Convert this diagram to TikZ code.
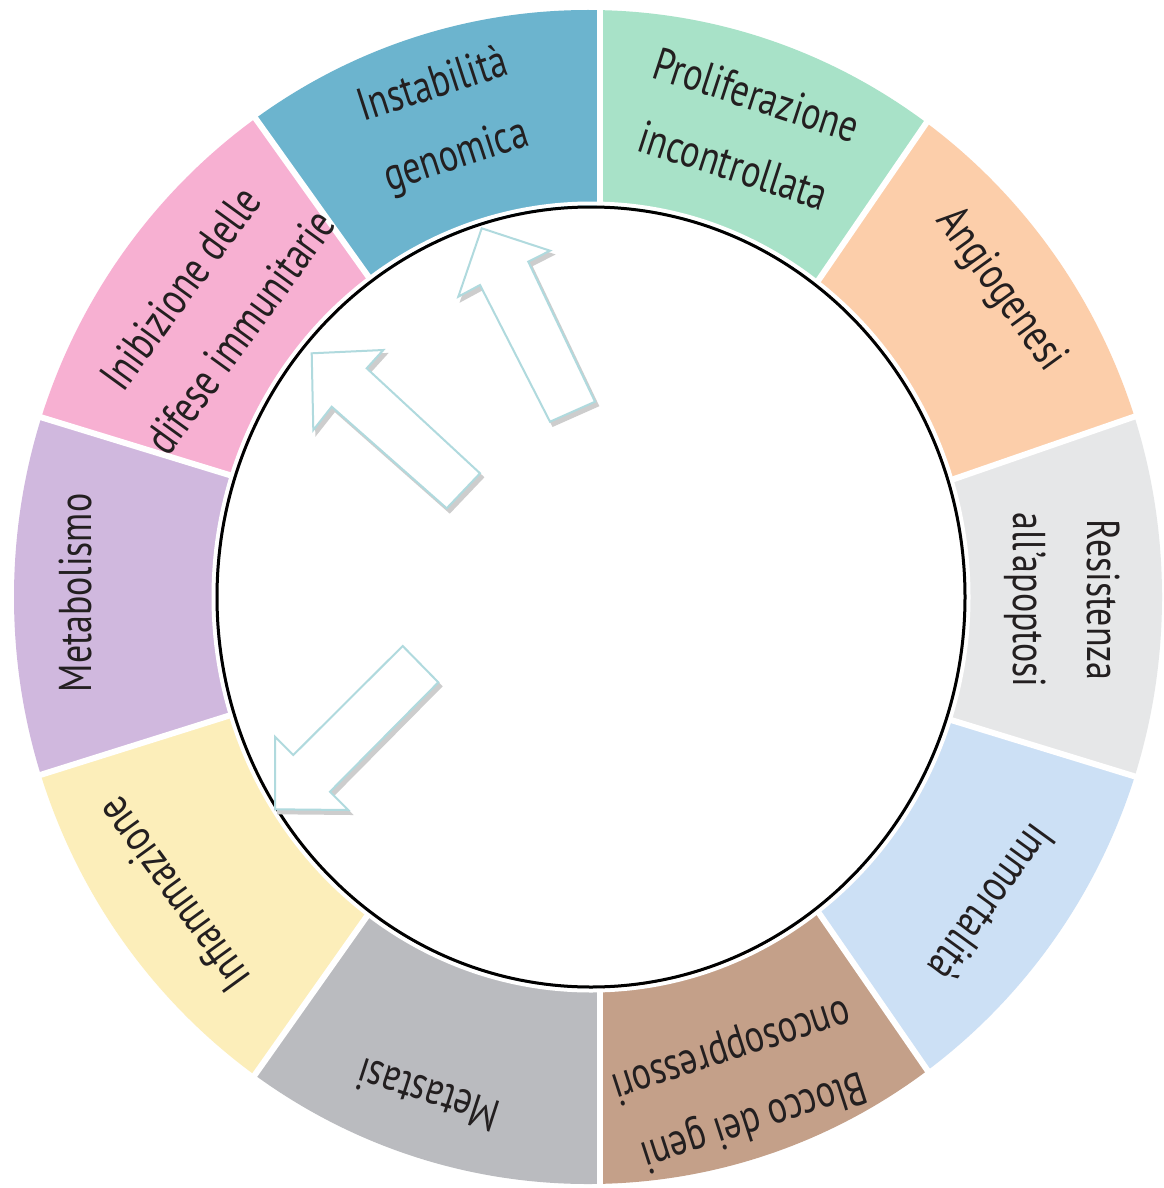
\documentclass[tikz,border=0pt]{standalone}
\usepackage{fontspec}
\newfontfamily\labfont{PT Sans}[FakeStretch=0.78]
\definecolor{cInst}{RGB}{108,180,206}
\definecolor{cProl}{RGB}{168,226,200}
\definecolor{cAngi}{RGB}{252,206,170}
\definecolor{cResi}{RGB}{230,231,232}
\definecolor{cImmo}{RGB}{204,224,245}
\definecolor{cBloc}{RGB}{196,160,137}
\definecolor{cMeta}{RGB}{186,187,191}
\definecolor{cInfi}{RGB}{252,238,186}
\definecolor{cMetb}{RGB}{208,184,222}
\definecolor{cInib}{RGB}{247,176,210}
\definecolor{txtc}{RGB}{35,31,32}
\definecolor{arrowc}{RGB}{176,218,222}
\definecolor{shadowc}{RGB}{205,205,205}
\begin{document}
\begin{tikzpicture}[x=1pt,y=1pt,
  lab/.style={font=\labfont\fontsize{46}{74}\selectfont, align=center, inner sep=0pt, text=txtc},
  gapline/.style={white, line width=6pt},
  arrowbody/.style={fill=white, draw=arrowc, line width=2pt, line join=miter},
  arrowshadow/.style={fill=shadowc, draw=shadowc, line width=2pt, line join=miter}]
\useasboundingbox (0,0) rectangle (1163,-1188);
\fill[white] (0,0) rectangle (1163,-1188);
% gap line end points
\coordinate (I1) at (600,-325);  \coordinate (O1) at (600,140);
\coordinate (I2) at (752,-377);  \coordinate (O2) at (1010,-1);
\coordinate (I3) at (847,-516);  \coordinate (O3) at (1275,-368);
\coordinate (I4) at (837,-685);  \coordinate (O4) at (1280,-821);
\coordinate (I5) at (754,-819);  \coordinate (O5) at (1012,-1193);
\coordinate (I6) at (600,-870);  \coordinate (O6) at (600,-1335);
\coordinate (I7) at (432,-824);  \coordinate (O7) at (170,-1195);
\coordinate (I8) at (336,-682);  \coordinate (O8) at (-103,-820);
\coordinate (I9) at (337,-508);  \coordinate (O9) at (-100,-374);
\coordinate (I10) at (435,-370); \coordinate (O10) at (171,0);
\coordinate (Co) at (588,-597);
\coordinate (Ci) at (591,-597);
% ring segments
\begin{scope}
  \clip (Co) ellipse (574pt and 587pt) (Ci) ellipse (374pt and 390pt);
  \fill[cProl] (I1) -- (O1) -- (O2) -- (I2) -- cycle;
  \fill[cAngi] (I2) -- (O2) -- (O3) -- (I3) -- cycle;
  \fill[cResi] (I3) -- (O3) -- (O4) -- (I4) -- cycle;
  \fill[cImmo] (I4) -- (O4) -- (O5) -- (I5) -- cycle;
  \fill[cBloc] (I5) -- (O5) -- (O6) -- (I6) -- cycle;
  \fill[cMeta] (I6) -- (O6) -- (O7) -- (I7) -- cycle;
  \fill[cInfi] (I7) -- (O7) -- (O8) -- (I8) -- cycle;
  \fill[cMetb] (I8) -- (O8) -- (O9) -- (I9) -- cycle;
  \fill[cInib] (I9) -- (O9) -- (O10) -- (I10) -- cycle;
  \fill[cInst] (I10) -- (O10) -- (O1) -- (I1) -- cycle;
\end{scope}
% white gaps
\foreach \k in {1,...,10} { \draw[gapline] (I\k) -- (O\k); }
% inner circle
\draw[white, line width=4pt] (Ci) ellipse (377.5pt and 393.5pt);
\fill[white] (Ci) ellipse (374pt and 390pt);
\draw[black, line width=3pt] (Ci) ellipse (374pt and 390pt);
% arrows
\begin{scope}[xshift=3pt, yshift=-4pt]
  \filldraw[arrowshadow] (481.7,-228.3) -- (550,-250.7) -- (528.3,-261.7) -- (595,-401.7) -- (550,-421.7) -- (480,-285) -- (458.3,-296.7) -- cycle;
  \filldraw[arrowshadow] (311.7,-353.3) -- (383.3,-350) -- (366.7,-368.3) -- (480,-473.3) -- (446.7,-508.3) -- (331.7,-406.7) -- (313.3,-430) -- cycle;
  \filldraw[arrowshadow] (402.7,-646) -- (438.3,-682.3) -- (330,-791.7) -- (348.3,-810) -- (275,-809.3) -- (275,-736.7) -- (293.3,-755) -- cycle;
\end{scope}
\filldraw[arrowbody] (481.7,-228.3) -- (550,-250.7) -- (528.3,-261.7) -- (595,-401.7) -- (550,-421.7) -- (480,-285) -- (458.3,-296.7) -- cycle;
\filldraw[arrowbody] (311.7,-353.3) -- (383.3,-350) -- (366.7,-368.3) -- (480,-473.3) -- (446.7,-508.3) -- (331.7,-406.7) -- (313.3,-430) -- cycle;
\filldraw[arrowbody] (402.7,-646) -- (438.3,-682.3) -- (330,-791.7) -- (348.3,-810) -- (275,-809.3) -- (275,-736.7) -- (293.3,-755) -- cycle;
% labels
\node[lab, rotate=18]   (inst) at (445,-122)  {Instabilità\\genomica};
\node[lab, rotate=-18]  (prol) at (745,-130)  {Proliferazione\\incontrollata};
\node[lab, rotate=-54]  (angi) at (1000,-290) {Angiogenesi};
\node[lab, rotate=-90]  (resi) at (1062,-600) {Resistenza\\all’apoptosi};
\node[lab, rotate=-126] (immo) at (992,-903)  {Immortalità};
\node[lab, rotate=-162] (bloc) at (742,-1084) {Blocco dei geni\\oncosoppressori};
\node[lab, rotate=162]  (meta) at (428,-1095) {Metastasi};
\node[lab, rotate=126]  (infi) at (173,-895)  {Infiammazione};
\node[lab, rotate=90]   (metb) at (75,-593)   {Metabolismo};
\node[lab, rotate=54]   (inib) at (210,-310)  {Inibizione delle\\difese immunitarie};
\end{tikzpicture}
\end{document}
